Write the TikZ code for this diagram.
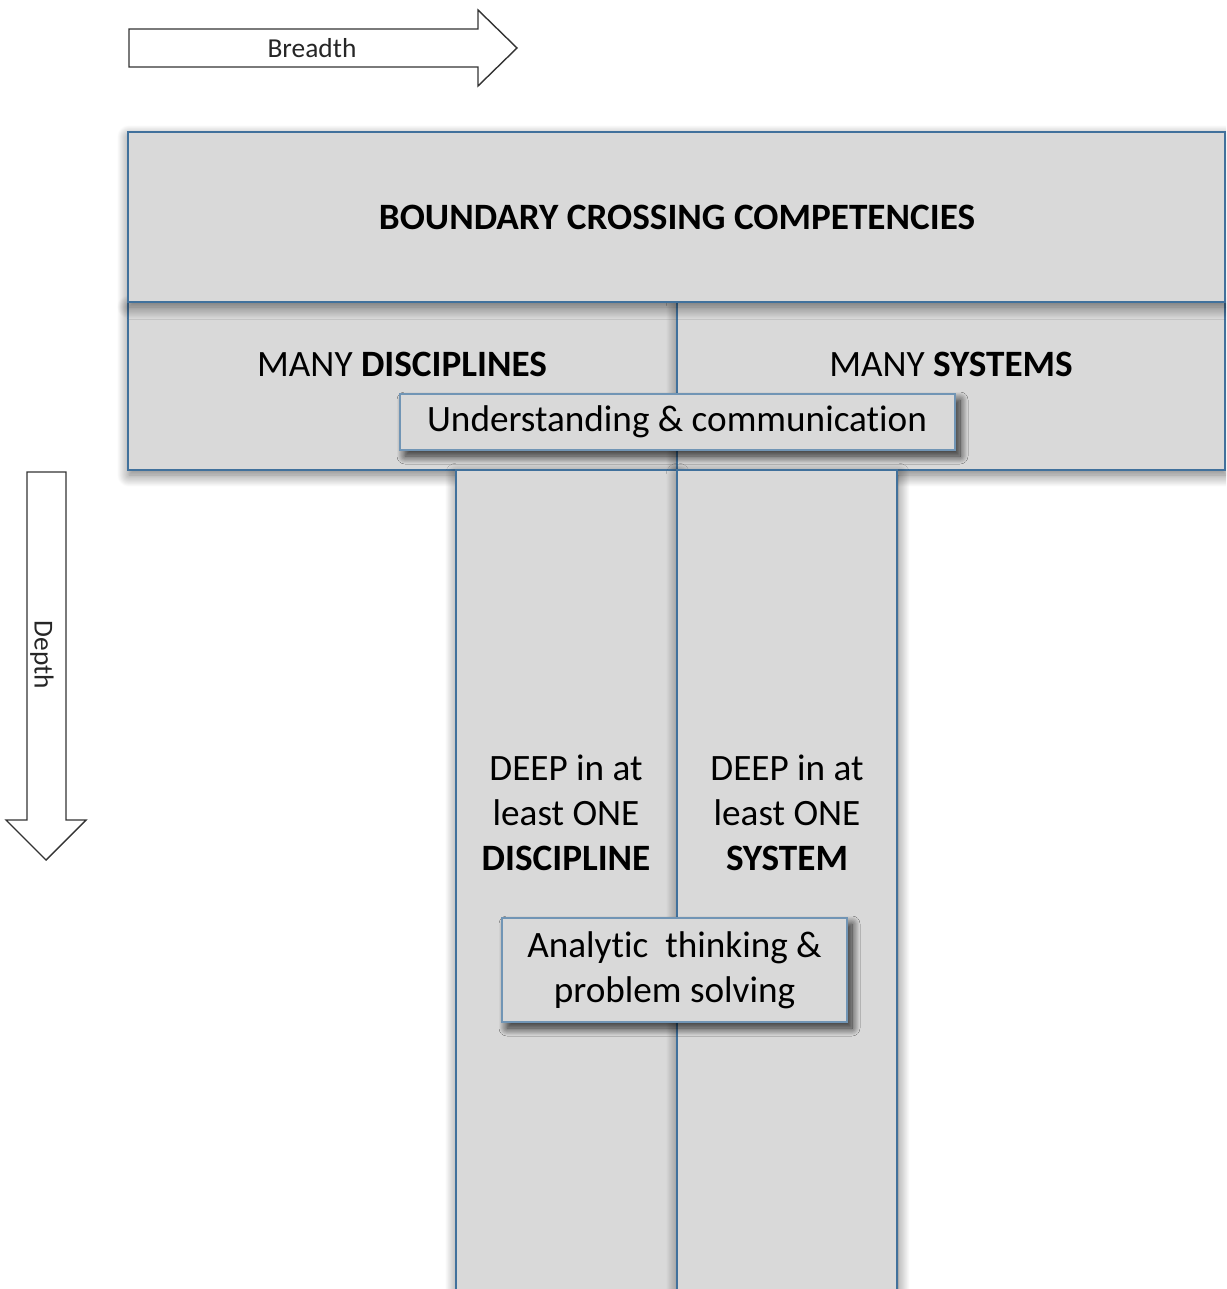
\documentclass[tikz,border=0pt]{standalone}
\usepackage{fontspec}
\setmainfont{Carlito}[Ligatures=NoCommon]
\usetikzlibrary{shadows.blur}
\definecolor{boxfill}{HTML}{D9D9D9}
\definecolor{boxline}{HTML}{41719C}
\begin{document}
\begin{tikzpicture}[x=0.5pt,y=-0.5pt,
  panel/.style={draw=boxline, line width=1.3pt, fill=boxfill, inner sep=0pt,
    blur shadow={shadow xshift=0.5pt, shadow yshift=-2.5pt, shadow blur radius=6pt, shadow blur steps=16, shadow opacity=55}},
  overlay box/.style={panel, line width=0.7pt, draw=boxline!75,
    blur shadow={shadow xshift=2.5pt, shadow yshift=-3pt, shadow blur radius=4pt, shadow blur steps=12, shadow opacity=50}},
  label/.style={font=\fontsize{18.6pt}{22.5pt}\selectfont, align=center, inner sep=0pt, text=black},
  arrowshape/.style={draw=black!80, line width=0.7pt, fill=white, line join=miter},
  small/.style={font=\fontsize{13.7pt}{16pt}\selectfont, inner sep=0pt, text=black!85}]
\useasboundingbox (0,0) rectangle (1226,1289);
\clip (0,0) rectangle (1226,1289);
% Breadth arrow
\draw[arrowshape] (129,29) -- (478,29) -- (478,10) -- (517,48) -- (478,86) -- (478,67) -- (129,67) -- cycle;
\node[small] (breadth) at (312,48) {Breadth};
% Depth arrow
\draw[arrowshape] (27,472) -- (66,472) -- (66,820) -- (86,820) -- (46,860) -- (6,820) -- (27,820) -- cycle;
\node[small, rotate=-90] (depth) at (42,655) {Depth};
% middle boxes
\node[panel, minimum width=274.5pt, minimum height=84pt] (midL) at (402.5,386) {};
\node[panel, minimum width=274pt, minimum height=84pt] (midR) at (951,386) {};
% top box
\node[panel, minimum width=548.5pt, minimum height=85pt] (top) at (676.5,217) {};
\node[label] (toptxt) at (677,217) {\textbf{BOUNDARY CROSSING COMPETENCIES}};
% stems
\node[panel, minimum width=110.5pt, minimum height=415pt] (stemL) at (566.5,885) {};
\node[panel, minimum width=110pt, minimum height=415pt] (stemR) at (787,885) {};
% texts
\node[label] (midLtxt) at (402,364) {MANY \textbf{DISCIPLINES}};
\node[label] (midRtxt) at (951,364) {MANY \textbf{SYSTEMS}};
\node[label] (stemLtxt) at (566,813) {DEEP in at\\least ONE\\\textbf{DISCIPLINE}};
\node[label] (stemRtxt) at (787,813) {DEEP in at\\least ONE\\\textbf{SYSTEM}};
% overlay boxes
\node[overlay box, minimum width=277.5pt, minimum height=28pt] (und) at (677.5,422) {};
\node[label] (undtxt) at (677,422) {Understanding \& communication};
\node[overlay box, minimum width=172.5pt, minimum height=52pt] (ana) at (674.5,970) {};
\node[label] (anatxt) at (674.5,970) {Analytic~ thinking \&\\problem solving};
\end{tikzpicture}
\end{document}
